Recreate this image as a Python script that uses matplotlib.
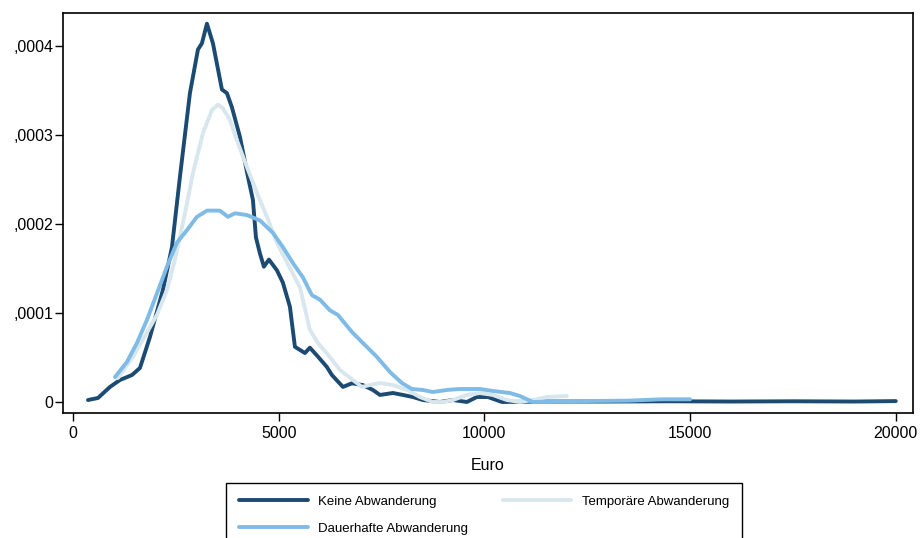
import numpy as np
import matplotlib.pyplot as plt

plt.rcParams['font.family'] = ['Liberation Sans', 'DejaVu Sans']

# Keine Abwanderung
keine_x = [365, 608, 899, 1142, 1434, 1628, 1871, 2187, 2406, 2600, 2843, 3038, 3135, 3256,
           3402, 3621, 3742, 3864, 4058, 4253, 4374, 4447, 4544, 4641, 4763, 4957, 5103, 5273,
           5395, 5638, 5759, 5954, 6172, 6294, 6520, 6561, 6780, 7047, 7290, 7461, 7777, 8019,
           8262, 8505, 8918, 9235, 9575, 9818, 10085, 10425, 11500, 13000, 14500, 16000,
           17500, 19000, 20000]
keine_y = [0.22, 0.45, 1.69, 2.47, 3.03, 3.82, 7.3, 12.6, 17.4, 25.3, 34.7, 39.6, 40.3, 42.5,
           40.3, 35.1, 34.7, 33.1, 29.8, 25.3, 22.7, 18.5, 16.7, 15.2, 16.0, 14.8, 13.4, 10.7,
           6.2, 5.5, 6.1, 5.1, 3.93, 3.03, 1.9, 1.69, 2.1, 1.9, 1.35, 0.79, 1.01, 0.79,
           0.56, 0.22, 0.0, 0.22, 0.0, 0.56, 0.56, 0.0, 0.05, 0.05, 0.08, 0.05,
           0.08, 0.05, 0.1]

# Temporäre Abwanderung
temp_x = [1094, 1458, 2041, 2284, 2479, 2722, 2916, 3159, 3378, 3524, 3645, 3815, 3985, 4228,
          4471, 4714, 4957, 5200, 5516, 5759, 5954, 6245, 6488, 6804, 7023, 7217, 7461, 7776,
          8117, 8433, 8748, 8991, 9235, 9575, 9891, 10207, 10547, 10863, 11179, 11519, 12005]
temp_y = [2.7, 5.06, 9.78, 12.6, 16.0, 21.2, 25.7, 30.2, 32.8, 33.4, 33.0, 31.7, 29.4, 26.4,
          23.5, 20.8, 17.9, 15.7, 12.9, 8.1, 6.63, 5.06, 3.6, 2.47, 1.69, 1.91, 2.13, 1.91,
          1.35, 0.56, 0.0, 0.0, 0.22, 0.79, 1.01, 0.79, 0.22, 0.0, 0.22, 0.56, 0.67]

# Dauerhafte Abwanderung
dauer_x = [1021, 1312, 1555, 1798, 2041, 2284, 2527, 2770, 3013, 3256, 3572, 3767, 3937, 4228,
           4544, 4860, 5103, 5346, 5589, 5808, 6002, 6245, 6440, 6780, 7047, 7388, 7704, 7995,
           8238, 8505, 8748, 9089, 9405, 9891, 10207, 10620, 10863, 11179, 12320, 13500,
           14300, 15000]
dauer_y = [2.8, 4.5, 6.63, 9.21, 12.2, 15.2, 17.9, 19.3, 20.8, 21.5, 21.5, 20.8, 21.2, 21.0,
           20.4, 19.0, 17.4, 15.6, 14.0, 12.0, 11.5, 10.3, 9.78, 7.87, 6.63, 5.06, 3.37, 2.13,
           1.46, 1.35, 1.12, 1.35, 1.46, 1.46, 1.24, 1.01, 0.67, 0.0, 0.1, 0.15,
           0.3, 0.3]

scale = 1e-5
fig = plt.figure(figsize=(9.22, 5.38), dpi=100)
ax = fig.add_axes([0.0683, 0.2323, 0.9217, 0.7435])

ax.plot(keine_x, np.array(keine_y) * scale, color='#1b4a73', lw=2.8, label='Keine Abwanderung',
        solid_joinstyle='round', solid_capstyle='round', zorder=3)
ax.plot(temp_x, np.array(temp_y) * scale, color='#d8e6ee', lw=2.8, label='Temporäre Abwanderung',
        solid_joinstyle='round', solid_capstyle='round', zorder=4)
ax.plot(dauer_x, np.array(dauer_y) * scale, color='#7ebbe7', lw=2.8, label='Dauerhafte Abwanderung',
        solid_joinstyle='round', solid_capstyle='round', zorder=5)

ax.set_xlim(-243, 20413)
ax.set_ylim(-0.0000124, 0.000437)
ax.set_xticks([0, 5000, 10000, 15000, 20000])
ax.set_yticks([0, 0.0001, 0.0002, 0.0003, 0.0004])
ax.set_yticklabels(['0', ',0001', ',0002', ',0003', ',0004'])
ax.tick_params(direction='out', length=5.5, width=1, labelsize=11.5, color='black')
ax.tick_params(axis='y', pad=1.5)
ax.tick_params(axis='x', pad=4)
for s in ax.spines.values():
    s.set_linewidth(1.2)
ax.set_xlabel('Euro', fontsize=11.5, labelpad=12)

h, l = ax.get_legend_handles_labels()
order = [0, 2, 1]
leg = fig.legend([h[i] for i in order], [l[i] for i in order], loc='upper center',
                 bbox_to_anchor=(484 / 922, 1 - 476 / 538), ncol=2, fontsize=9.5,
                 handlelength=5.2, columnspacing=2.6, labelspacing=1.1, fancybox=False,
                 edgecolor='black', framealpha=1, borderpad=1.0)
leg.get_frame().set_linewidth(1)

fig.savefig('out.png', dpi=100)
